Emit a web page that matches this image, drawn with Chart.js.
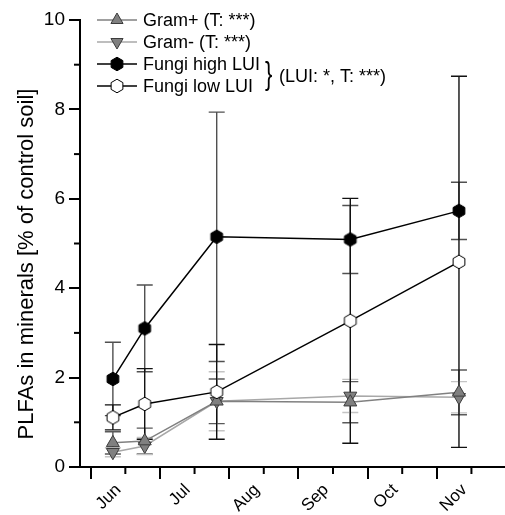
<!DOCTYPE html>
<html><head><meta charset="utf-8">
<script src="https://cdn.jsdelivr.net/npm/chart.js@4/dist/chart.umd.min.js"></script>
<style>html,body{margin:0;padding:0;background:#fff;} #wrap{width:505px;height:515px;position:relative}</style>
</head><body><div id="wrap"><canvas id="c" width="505" height="515"></canvas></div>
<script>
// ---- data ----
const monthLabels = ['Jun', 'Jul', 'Aug', 'Sep', 'Oct', 'Nov'];
const samplingTimes = [0.32, 0.78, 1.82, 3.75, 5.32]; // months after 1 June
const gramPos = [0.54, 0.58, 1.47, 1.45, 1.67];
const gramPosErr = [0.25, 0.29, 0.50, 0.46, 0.50];
const gramNeg = [0.33, 0.47, 1.47, 1.59, 1.56];
const gramNegErr = [0.10, 0.19, 0.66, 0.37, 0.35];
const fungiHigh = [1.97, 3.10, 5.15, 5.09, 5.73];
const fungiHighErr = [0.82, 0.97, 2.79, 0.76, 0.64];
const fungiLow = [1.11, 1.41, 1.68, 3.27, 4.59];
const fungiLowErr = [0.28, 0.79, 1.06, 2.74, 4.15];
const seriesNames = ['Gram+ (T: ***)', 'Gram- (T: ***)', 'Fungi high LUI', 'Fungi low LUI'];
const braceNote = '(LUI: *, T: ***)';
const yTitle = 'PLFAs in minerals [% of control soil]';

const FONT = "'Liberation Sans', Arial, sans-serif";

function hexagon(r, fill, stroke, lw) {
  const s = Math.ceil(2 * r + 2 * lw + 2);
  const c = document.createElement('canvas');
  c.width = s; c.height = s;
  const g = c.getContext('2d');
  g.beginPath();
  for (let k = 0; k < 6; k++) {
    const a = Math.PI / 2 + k * Math.PI / 3;
    const px = s / 2 + r * Math.cos(a), py = s / 2 - r * Math.sin(a);
    k ? g.lineTo(px, py) : g.moveTo(px, py);
  }
  g.closePath();
  g.fillStyle = fill; g.fill();
  g.lineWidth = lw; g.strokeStyle = stroke; g.stroke();
  return c;
}
const hexBlack = hexagon(6.8, '#000', '#000', 1);
const hexWhite = hexagon(6.8, '#fff', '#000', 1);

const pts = arr => arr.map((v, i) => ({x: samplingTimes[i], y: v}));

const datasets = [
  {label: seriesNames[0], data: pts(gramPos), err: gramPosErr, errColor: '#5a5a5a',
   borderColor: '#808080', backgroundColor: '#808080', pointBorderColor: '#3c3c3c',
   pointStyle: 'triangle', pointRadius: 7.5, pointRotation: 0, borderWidth: 1.5, pointBorderWidth: 1, order: 3},
  {label: seriesNames[1], data: pts(gramNeg), err: gramNegErr, errColor: '#c4c4c4',
   borderColor: '#a8a8a8', backgroundColor: '#808080', pointBorderColor: '#3c3c3c',
   pointStyle: 'triangle', pointRadius: 7.5, pointRotation: 180, borderWidth: 1.5, pointBorderWidth: 1, order: 4},
  {label: seriesNames[2], data: pts(fungiHigh), err: fungiHighErr, errColor: '#505050',
   borderColor: '#000', backgroundColor: '#000', pointStyle: hexBlack, borderWidth: 1.5, order: 1},
  {label: seriesNames[3], data: pts(fungiLow), err: fungiLowErr, errColor: '#111',
   borderColor: '#000', backgroundColor: '#fff', pointStyle: hexWhite, borderWidth: 1.5, order: 2}
];

const errorBars = {
  id: 'errorBars',
  beforeDatasetsDraw(chart) {
    const {ctx, scales: {x, y}} = chart;
    ctx.save();
    chart.data.datasets.forEach(ds => {
      ctx.strokeStyle = ds.errColor; ctx.lineWidth = 1.4;
      ds.data.forEach((p, i) => {
        const px = x.getPixelForValue(p.x);
        const top = y.getPixelForValue(p.y + ds.err[i]);
        const bot = y.getPixelForValue(p.y - ds.err[i]);
        ctx.beginPath();
        ctx.moveTo(px, top); ctx.lineTo(px, bot);
        ctx.moveTo(px - 8, top); ctx.lineTo(px + 8, top);
        ctx.moveTo(px - 8, bot); ctx.lineTo(px + 8, bot);
        ctx.stroke();
      });
    });
    ctx.restore();
  }
};

const minorTicks = {
  id: 'minorTicks',
  afterDraw(chart) {
    const {ctx, scales: {x, y}, chartArea} = chart;
    ctx.save();
    ctx.strokeStyle = '#000'; ctx.lineWidth = 2;
    x.ticks.forEach(t => {
      if (!Number.isInteger(t.value)) {
        const px = x.getPixelForValue(t.value);
        ctx.beginPath(); ctx.moveTo(px, chartArea.bottom); ctx.lineTo(px, chartArea.bottom + 7); ctx.stroke();
      }
    });
    y.ticks.forEach(t => {
      if (t.value % 2 !== 0) {
        const py = y.getPixelForValue(t.value);
        ctx.beginPath(); ctx.moveTo(chartArea.left, py); ctx.lineTo(chartArea.left - 6, py); ctx.stroke();
      }
    });
    // y axis title
    ctx.save();
    ctx.font = '22px ' + FONT;
    ctx.fillStyle = '#000';
    ctx.textAlign = 'center';
    ctx.textBaseline = 'middle';
    ctx.translate(27, 264);
    ctx.rotate(-Math.PI / 2);
    ctx.fillText(yTitle, 0, 0);
    ctx.restore();
    ctx.restore();
  }
};

const legendPlugin = {
  id: 'customLegend',
  afterDraw(chart) {
    const {ctx} = chart;
    const rows = [20, 42, 64, 86];
    const x0 = 97, x1 = 137, mx = 117, tx = 143;
    ctx.save();
    ctx.font = '18px ' + FONT;
    ctx.textBaseline = 'middle';
    ctx.fillStyle = '#000';
    chart.data.datasets.forEach((ds, i) => {
      const yy = rows[i];
      ctx.strokeStyle = ds.borderColor; ctx.lineWidth = 1.5;
      ctx.beginPath(); ctx.moveTo(x0, yy); ctx.lineTo(x1, yy); ctx.stroke();
      if (typeof ds.pointStyle === 'string') {
        ctx.fillStyle = ds.backgroundColor; ctx.strokeStyle = ds.pointBorderColor; ctx.lineWidth = 1;
        Chart.helpers.drawPoint(ctx, {pointStyle: ds.pointStyle, rotation: ds.pointRotation, radius: 7, borderWidth: 1}, mx, yy);
      } else {
        ctx.drawImage(ds.pointStyle, mx - ds.pointStyle.width / 2, yy - ds.pointStyle.height / 2);
      }
      ctx.fillStyle = '#000';
      ctx.fillText(ds.label, tx, yy + 1);
    });
    // brace grouping the two fungi series
    ctx.save();
    ctx.font = '22px ' + FONT;
    ctx.translate(265, 75);
    ctx.scale(1, 1.45);
    ctx.fillText('}', 0, 0);
    ctx.restore();
    ctx.fillText(braceNote, 279, 77);
    ctx.restore();
  }
};

new Chart(document.getElementById('c'), {
  type: 'line',
  data: {datasets},
  options: {
    responsive: false,
    animation: false,
    layout: {autoPadding: false, padding: {top: 20, right: 0, left: 0, bottom: 0}},
    plugins: {legend: {display: false}, tooltip: {enabled: false}},
    scales: {
      x: {
        type: 'linear', min: -0.155, max: 5.985,
        afterBuildTicks: s => { const t = []; for (let v = 0; v <= 6; v += 0.5) t.push({value: v}); s.ticks = t; },
        afterFit: s => { s.height = 48; s.paddingLeft = 0; s.paddingRight = 0; },
        grid: {drawOnChartArea: false, tickLength: 12, lineWidth: 2,
               tickColor: c => (c.tick && Number.isInteger(c.tick.value)) ? '#000' : 'rgba(0,0,0,0)'},
        border: {display: true, color: '#000', width: 2},
        ticks: {
          autoSkip: false, maxRotation: 45, minRotation: 45, padding: 1, labelOffset: -7,
          color: '#000', font: {family: FONT, size: 17},
          callback: v => (!Number.isInteger(v) && monthLabels[v - 0.5]) ? monthLabels[v - 0.5] : ''
        }
      },
      y: {
        min: 0, max: 10,
        afterBuildTicks: s => { const t = []; for (let v = 0; v <= 10; v++) t.push({value: v}); s.ticks = t; },
        afterFit: s => { s.width = 80; s.paddingTop = 0; s.paddingBottom = 0; },
        grid: {drawOnChartArea: false, tickLength: 11, lineWidth: 2,
               tickColor: c => (c.tick && c.tick.value % 2 === 0) ? '#000' : 'rgba(0,0,0,0)'},
        border: {display: true, color: '#000', width: 2},
        ticks: {autoSkip: false, padding: 4, color: '#000', font: {family: FONT, size: 19},
                callback: v => v % 2 === 0 ? String(v) : ''},
        title: {display: false}
      }
    }
  },
  plugins: [errorBars, minorTicks, legendPlugin]
});
</script>
</body></html>
